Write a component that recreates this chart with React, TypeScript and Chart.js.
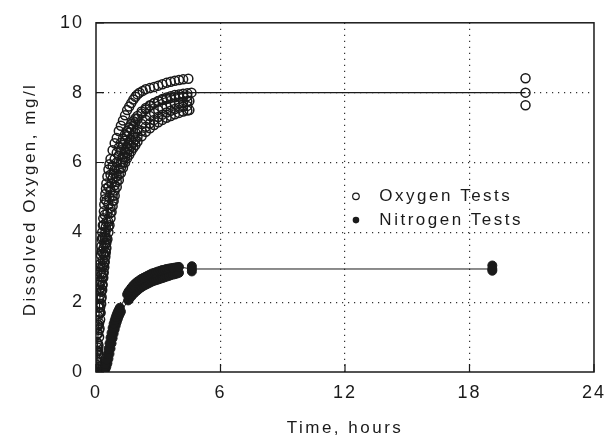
import React, { useEffect, useRef } from "react";
import { Chart, registerables } from "chart.js";

Chart.register(...registerables);

// ---------- data ----------
const X_TICKS = [0, 6, 12, 18, 24];
const Y_TICKS = [0, 2, 4, 6, 8, 10];
const X_TITLE = "Time, hours";
const Y_TITLE = "Dissolved Oxygen, mg/l";
const LEGEND_LABELS = ["Oxygen Tests", "Nitrogen Tests"];

type P = [number, number];

// Oxygen test runs (time h, DO mg/l)
const oxygenRunA: P[] = [
  [0.0, 0.1], [0.02, 0.35], [0.03, 0.6], [0.05, 0.85], [0.06, 1.1], [0.08, 1.35], [0.1, 1.6],
  [0.12, 1.85], [0.14, 2.1], [0.16, 2.35], [0.18, 2.6], [0.2, 2.85], [0.22, 3.1], [0.24, 3.35],
  [0.26, 3.6], [0.28, 3.8], [0.3, 4.0], [0.33, 4.2], [0.35, 4.4], [0.38, 4.6], [0.4, 4.8],
  [0.43, 4.95], [0.45, 5.1], [0.48, 5.25], [0.5, 5.4], [0.55, 5.6], [0.6, 5.8], [0.65, 5.95],
  [0.7, 6.1], [0.8, 6.35], [0.9, 6.55], [1.0, 6.7], [1.1, 6.9], [1.2, 7.05],
  [1.3, 7.2], [1.4, 7.35], [1.5, 7.5], [1.6, 7.6], [1.7, 7.7], [1.8, 7.8], [1.9, 7.88],
  [2.0, 7.95], [2.1, 8.0], [2.25, 8.05], [2.4, 8.1], [2.6, 8.13], [2.8, 8.16], [3.0, 8.2],
  [3.2, 8.24], [3.4, 8.28], [3.6, 8.31], [3.8, 8.34], [4.0, 8.36], [4.2, 8.38], [4.45, 8.4],
];
const oxygenRunB: P[] = [
  [0.0, 0.0], [0.03, 0.2], [0.05, 0.4], [0.07, 0.7], [0.1, 1.1], [0.12, 1.35], [0.15, 1.7],
  [0.17, 1.95], [0.2, 2.2], [0.22, 2.4], [0.25, 2.6], [0.27, 2.8], [0.3, 3.0], [0.32, 3.2],
  [0.35, 3.4], [0.37, 3.55], [0.4, 3.7], [0.42, 3.85], [0.45, 4.0], [0.47, 4.15], [0.5, 4.3],
  [0.55, 4.55], [0.6, 4.8], [0.65, 5.0], [0.7, 5.2], [0.75, 5.4], [0.8, 5.55], [0.85, 5.68],
  [0.9, 5.8], [1.0, 6.0], [1.1, 6.2], [1.2, 6.35], [1.3, 6.5], [1.4, 6.62], [1.5, 6.75],
  [1.6, 6.85], [1.7, 6.95], [1.8, 7.05], [1.9, 7.15], [2.0, 7.25], [2.2, 7.4], [2.4, 7.52],
  [2.6, 7.62], [2.8, 7.7], [3.0, 7.76], [3.2, 7.82], [3.4, 7.86], [3.6, 7.9], [3.8, 7.93],
  [4.0, 7.95], [4.2, 7.97], [4.4, 7.98], [4.6, 8.0], [20.7, 8.0],
];
const oxygenRunC: P[] = [
  [0.0, 0.05], [0.05, 0.3], [0.1, 0.8], [0.15, 1.4], [0.2, 1.85], [0.25, 2.3], [0.3, 2.7],
  [0.35, 3.05], [0.4, 3.35], [0.45, 3.65], [0.5, 3.85], [0.6, 4.3], [0.7, 4.7], [0.8, 5.05],
  [0.9, 5.35], [1.0, 5.6], [1.1, 5.8], [1.2, 6.0], [1.3, 6.15], [1.4, 6.3], [1.5, 6.42],
  [1.6, 6.55], [1.7, 6.65], [1.8, 6.75], [1.9, 6.85], [2.0, 6.95], [2.2, 7.1], [2.4, 7.22],
  [2.6, 7.33], [2.8, 7.42], [3.0, 7.5], [3.2, 7.56], [3.4, 7.61], [3.6, 7.65], [3.8, 7.68],
  [4.0, 7.71], [4.2, 7.73], [4.4, 7.75], [4.5, 7.76],
];
const oxygenRunD: P[] = [
  [0.0, 0.0], [0.05, 0.2], [0.1, 0.5], [0.12, 0.75], [0.15, 1.0], [0.17, 1.25], [0.2, 1.5],
  [0.22, 1.7], [0.25, 1.95], [0.27, 2.15], [0.3, 2.35], [0.32, 2.5], [0.35, 2.7], [0.37, 2.85],
  [0.4, 3.0], [0.42, 3.15], [0.45, 3.3], [0.47, 3.42], [0.5, 3.55], [0.55, 3.8], [0.6, 4.0],
  [0.65, 4.2], [0.7, 4.4], [0.75, 4.58], [0.8, 4.75], [0.85, 4.9], [0.9, 5.05],
  [1.0, 5.3], [1.1, 5.5], [1.2, 5.7], [1.3, 5.85], [1.4, 6.0], [1.5, 6.12], [1.6, 6.22],
  [1.7, 6.32], [1.8, 6.42], [1.9, 6.5], [2.0, 6.6], [2.2, 6.75], [2.4, 6.88], [2.6, 6.98],
  [2.8, 7.07], [3.0, 7.15], [3.2, 7.22], [3.4, 7.28], [3.6, 7.33], [3.8, 7.38], [4.0, 7.42],
  [4.2, 7.46], [4.4, 7.49], [4.5, 7.5],
];
const oxygenRunE: P[] = [
  [0.0, 0.0], [0.04, 0.6], [0.08, 1.3], [0.12, 1.9], [0.17, 2.5], [0.22, 3.0], [0.27, 3.45],
  [0.32, 3.85], [0.37, 4.2], [0.42, 4.5], [0.5, 4.9], [0.6, 5.3], [0.7, 5.65], [0.8, 5.9],
  [0.9, 6.1], [1.0, 6.28], [1.1, 6.43], [1.2, 6.56], [1.3, 6.68], [1.4, 6.8], [1.5, 6.9],
  [1.6, 7.0], [1.7, 7.1], [1.8, 7.18], [1.9, 7.26], [2.0, 7.33], [2.2, 7.46], [2.4, 7.56],
  [2.6, 7.64], [2.8, 7.7], [3.0, 7.75], [3.2, 7.79], [3.4, 7.82], [3.6, 7.85], [3.8, 7.87],
  [4.0, 7.88], [4.2, 7.89], [4.4, 7.9],
];
const oxygenRunF: P[] = [
  [0.05, 0.1], [0.1, 0.6], [0.15, 1.2], [0.2, 1.7], [0.25, 2.1], [0.3, 2.5], [0.35, 2.85],
  [0.4, 3.15], [0.45, 3.45], [0.5, 3.7], [0.6, 4.15], [0.7, 4.55], [0.8, 4.9], [0.9, 5.2],
  [1.0, 5.45], [1.1, 5.65], [1.2, 5.85], [1.3, 6.0], [1.4, 6.15], [1.5, 6.27], [1.6, 6.38],
  [1.7, 6.48], [1.8, 6.57], [1.9, 6.66], [2.0, 6.74], [2.2, 6.9], [2.4, 7.02], [2.6, 7.12],
  [2.8, 7.22], [3.0, 7.3], [3.2, 7.37], [3.4, 7.43], [3.6, 7.48], [3.8, 7.53], [4.0, 7.57],
  [4.2, 7.6], [4.4, 7.62],
];
const oxygenLate: P[] = [[20.7, 8.41], [20.7, 7.64]];

// Nitrogen test runs
const nitrogenRun1: P[] = [
  [0.0, 0.0], [0.05, 0.0], [0.1, 0.0], [0.15, 0.0], [0.2, 0.0], [0.25, 0.0], [0.3, 0.02],
  [0.35, 0.05], [0.4, 0.12], [0.45, 0.22], [0.5, 0.35], [0.55, 0.5], [0.6, 0.66], [0.65, 0.82],
  [0.7, 0.98], [0.75, 1.12], [0.8, 1.26], [0.85, 1.38], [0.9, 1.48], [0.95, 1.57], [1.0, 1.65],
  [1.05, 1.72], [1.1, 1.78], [1.15, 1.84], [1.5, 2.22], [1.55, 2.28], [1.6, 2.33], [1.7, 2.41],
  [1.8, 2.48], [1.9, 2.54], [2.0, 2.59], [2.1, 2.63], [2.2, 2.67], [2.3, 2.7], [2.4, 2.73],
  [2.5, 2.76], [2.6, 2.79], [2.7, 2.82], [2.8, 2.84], [2.9, 2.86], [3.0, 2.88], [3.1, 2.9],
  [3.2, 2.92], [3.3, 2.93], [3.4, 2.95], [3.5, 2.96], [3.6, 2.97], [3.7, 2.98], [3.8, 2.99],
  [3.9, 3.0], [4.0, 3.01], [4.62, 2.95], [19.1, 2.95],
];
const nitrogenRun2: P[] = [
  [0.1, 0.0], [0.2, 0.0], [0.3, 0.0], [0.4, 0.03], [0.45, 0.08], [0.5, 0.15], [0.55, 0.25],
  [0.6, 0.38], [0.65, 0.52], [0.7, 0.67], [0.75, 0.82], [0.8, 0.97], [0.85, 1.1], [0.9, 1.22],
  [0.95, 1.33], [1.0, 1.43], [1.05, 1.52], [1.1, 1.6], [1.15, 1.67], [1.2, 1.73], [1.55, 2.05],
  [1.6, 2.09], [1.7, 2.16], [1.8, 2.23], [1.9, 2.29], [2.0, 2.34], [2.1, 2.39], [2.2, 2.43],
  [2.3, 2.47], [2.4, 2.5], [2.5, 2.53], [2.6, 2.56], [2.7, 2.59], [2.8, 2.61], [2.9, 2.63],
  [3.0, 2.65], [3.1, 2.67], [3.2, 2.69], [3.3, 2.71], [3.4, 2.73], [3.5, 2.75], [3.6, 2.77],
  [3.7, 2.79], [3.8, 2.8], [3.9, 2.82], [4.0, 2.84],
];
const nitrogenLate: P[] = [[4.62, 2.88], [4.62, 3.03], [19.1, 2.9], [19.1, 3.05]];

// ---------- chart ----------
const FONT = '"Liberation Sans", Arial, sans-serif';
const INK = "#1a1a1a";

const toXY = (arr: P[]) => arr.map(([x, y]) => ({ x, y }));

const openStyle = {
  pointStyle: "circle",
  pointRadius: 4.5,
  pointBorderWidth: 1.5,
  pointBorderColor: INK,
  pointBackgroundColor: "rgba(255,255,255,0)",
  borderColor: INK,
  borderWidth: 1.2,
};
const filledStyle = {
  pointStyle: "circle",
  pointRadius: 4.5,
  pointBorderWidth: 1,
  pointBorderColor: INK,
  pointBackgroundColor: INK,
  borderColor: INK,
  borderWidth: 1,
};

const decor = {
  id: "decor",
  beforeDraw(chart: any) {
    chart.ctx.letterSpacing = "2px";
  },
  beforeDatasetsDraw(chart: any) {
    const { ctx, chartArea: a, scales } = chart;
    const x = scales.x;
    const y = scales.y;
    ctx.save();
    ctx.strokeStyle = INK;
    ctx.lineWidth = 1.5;
    ctx.strokeRect(a.left, a.top, a.right - a.left, a.bottom - a.top);
    ctx.lineWidth = 1.2;
    ctx.beginPath();
    for (const v of X_TICKS) {
      const px = x.getPixelForValue(v);
      ctx.moveTo(px, a.bottom);
      ctx.lineTo(px, a.bottom - 8);
    }
    for (const v of Y_TICKS) {
      const py = y.getPixelForValue(v);
      ctx.moveTo(a.left, py);
      ctx.lineTo(a.left + 8, py);
    }
    ctx.stroke();
    ctx.restore();
  },
  afterDraw(chart: any) {
    const { ctx, chartArea: a } = chart;
    const w = a.right - a.left;
    const h = a.bottom - a.top;
    ctx.save();
    ctx.letterSpacing = "2.5px";
    ctx.fillStyle = INK;
    ctx.font = `17px ${FONT}`;
    ctx.textBaseline = "middle";
    // legend
    const mx = a.left + 0.522 * w;
    const tx = a.left + 0.569 * w;
    const rows = [a.top + 0.497 * h, a.top + 0.565 * h];
    ctx.textAlign = "left";
    rows.forEach((ry, i) => {
      ctx.beginPath();
      ctx.arc(mx, ry, 3.3, 0, Math.PI * 2);
      if (i === 0) {
        ctx.strokeStyle = INK;
        ctx.lineWidth = 1.2;
        ctx.stroke();
      } else {
        ctx.fill();
      }
      ctx.fillText(LEGEND_LABELS[i], tx, ry);
    });
    // axis titles
    ctx.textAlign = "center";
    ctx.fillText(X_TITLE, (a.left + a.right) / 2, 428);
    ctx.translate(30, (a.top + a.bottom) / 2 + 2);
    ctx.rotate(-Math.PI / 2);
    ctx.fillText(Y_TITLE, 0, 0);
    ctx.restore();
    ctx.letterSpacing = "0px";
  },
};

export default function App() {
  const ref = useRef<HTMLCanvasElement | null>(null);

  useEffect(() => {
    document.body.style.margin = "0";
    const canvas = ref.current;
    if (!canvas) return;
    const edgeX = (ctx: any) =>
      ctx.tick && (ctx.tick.value === 0 || ctx.tick.value === 24) ? "rgba(0,0,0,0)" : "#333";
    const edgeY = (ctx: any) =>
      ctx.tick && (ctx.tick.value === 0 || ctx.tick.value === 10) ? "rgba(0,0,0,0)" : "#333";

    const chart = new Chart(canvas, {
      type: "scatter",
      data: {
        datasets: [
          { label: "oxA", data: toXY(oxygenRunA), showLine: false, ...openStyle },
          { label: "oxB", data: toXY(oxygenRunB), showLine: true, ...openStyle },
          { label: "oxC", data: toXY(oxygenRunC), showLine: false, ...openStyle },
          { label: "oxD", data: toXY(oxygenRunD), showLine: false, ...openStyle },
          { label: "oxE", data: toXY(oxygenRunE), showLine: false, ...openStyle },
          { label: "oxF", data: toXY(oxygenRunF), showLine: false, ...openStyle },
          { label: "oxLate", data: toXY(oxygenLate), showLine: false, ...openStyle },
          { label: "n1", data: toXY(nitrogenRun1), showLine: true, ...filledStyle },
          { label: "n2", data: toXY(nitrogenRun2), showLine: true, ...filledStyle },
          { label: "nLate", data: toXY(nitrogenLate), showLine: false, ...filledStyle },
        ] as any,
      },
      options: {
        animation: false,
        responsive: false,
        maintainAspectRatio: false,
        layout: { padding: { left: 0, right: 14, top: 20, bottom: 0 } },
        plugins: { legend: { display: false }, tooltip: { enabled: false } },
        scales: {
          x: {
            type: "linear",
            min: 0,
            max: 24,
            afterBuildTicks: (s: any) => {
              s.ticks = X_TICKS.map((v) => ({ value: v }));
            },
            afterFit: (s: any) => {
              s.height = 73;
            },
            border: { display: false, dash: [1.2, 4.8] },
            grid: {
              drawTicks: false,
              color: edgeX,
              lineWidth: 1.2,
            },
            ticks: {
              color: INK,
              padding: 10,
              font: { family: FONT, size: 18 },
              maxRotation: 0,
            },
          },
          y: {
            type: "linear",
            min: 0,
            max: 10,
            afterBuildTicks: (s: any) => {
              s.ticks = Y_TICKS.map((v) => ({ value: v }));
            },
            afterFit: (s: any) => {
              s.width = 96;
            },
            border: { display: false, dash: [1.2, 4.8] },
            grid: {
              drawTicks: false,
              color: edgeY,
              lineWidth: 1.2,
            },
            ticks: {
              color: INK,
              padding: 12,
              font: { family: FONT, size: 18 },
            },
          },
        },
      },
      plugins: [decor],
    });
    return () => chart.destroy();
  }, []);

  return (
    <div style={{ width: 614, height: 445 }}>
      <canvas ref={ref} width={614} height={445} style={{ display: "block" }} />
    </div>
  );
}
